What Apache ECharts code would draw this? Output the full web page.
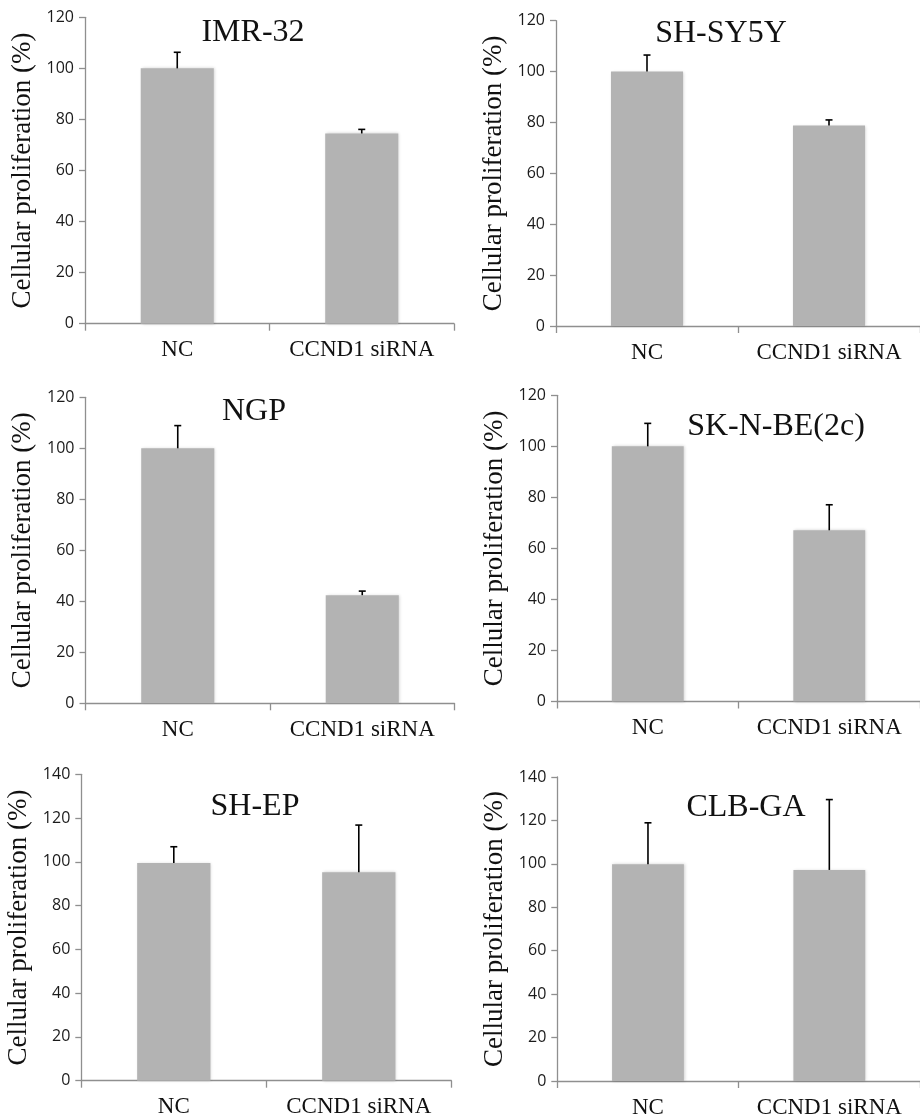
<!DOCTYPE html>
<html>
<head>
<meta charset="utf-8">
<script src="https://cdn.jsdelivr.net/npm/echarts@6/dist/echarts.min.js"></script>
<style>
html,body{margin:0;padding:0;background:#fff;}
#chart{width:920px;height:1119px;}
</style>
</head>
<body>
<div id="chart"></div>
<script>
// ---- data ----
const categories = ['NC', 'CCND1 siRNA'];
const panelTitles = ['IMR-32', 'SH-SY5Y', 'NGP', 'SK-N-BE(2c)', 'SH-EP', 'CLB-GA'];
const yAxisName = 'Cellular proliferation (%)';
const yMaxValues = [120, 120, 120, 120, 140, 140];
const yTickStep = 20;

const imr32Mean = [100, 74.5];
const imr32Err  = [6.3, 1.6];
const shsy5yMean = [100, 78.8];
const shsy5yErr  = [6.5, 2.2];
const ngpMean = [100, 42.4];
const ngpErr  = [8.9, 1.6];
const sknbeMean = [100, 67.1];
const sknbeErr  = [9.0, 10.0];
const shepMean = [99.5, 95.3];
const shepErr  = [7.4, 21.5];
const clbgaMean = [99.8, 97.2];
const clbgaErr  = [19.1, 32.4];

const panelMeans = [imr32Mean, shsy5yMean, ngpMean, sknbeMean, shepMean, clbgaMean];
const panelErrs  = [imr32Err, shsy5yErr, ngpErr, sknbeErr, shepErr, clbgaErr];

// ---- layout (pixels) ----
const grids = [
  {left: 85,  top: 17.3,  width: 369, height: 306.4},
  {left: 556, top: 20.7,  width: 368, height: 305.3},
  {left: 85.5,top: 397.3, width: 369, height: 306},
  {left: 557, top: 395.3, width: 371, height: 306.2},
  {left: 81.3,top: 774.3, width: 370, height: 306.4},
  {left: 557.3,top: 777,  width: 371, height: 305.3}
];
const titlePos = [
  [253, 17], [721, 18], [254, 396], [776, 411], [255, 791], [746, 792]
];

const serif = '"Liberation Serif", "DejaVu Serif", serif';
const sans = '"Open Sans", "Liberation Sans", sans-serif';
const axisGray = '#8f8f8f';

const option = {
  animation: false,
  backgroundColor: '#fff',
  grid: grids.map(g => Object.assign({containLabel: false}, g)),
  xAxis: grids.map((g, i) => ({
    type: 'category',
    gridIndex: i,
    data: categories,
    axisLine: {show: true, lineStyle: {color: axisGray, width: 1.3}},
    axisTick: {show: true, length: 7, alignWithLabel: false, lineStyle: {color: axisGray, width: 1.3}},
    axisLabel: {fontFamily: serif, fontSize: 23, color: '#111', margin: 15, interval: 0, hideOverlap: false},
    splitLine: {show: false}
  })),
  yAxis: grids.map((g, i) => ({
    type: 'value',
    gridIndex: i,
    min: 0,
    max: yMaxValues[i],
    interval: yTickStep,
    name: yAxisName,
    nameLocation: 'middle',
    nameGap: 49,
    nameTextStyle: {fontFamily: serif, fontSize: 27, color: '#111'},
    axisLine: {show: true, lineStyle: {color: axisGray, width: 1.3}},
    axisTick: {show: true, length: 6, lineStyle: {color: axisGray, width: 1.3}},
    axisLabel: {fontFamily: sans, fontSize: 16, color: '#1a1a1a', margin: 11},
    splitLine: {show: false}
  })),
  graphic: panelTitles.map((t, i) => ({
    type: 'text',
    x: titlePos[i][0],
    y: titlePos[i][1],
    style: {text: t, fontFamily: serif, fontSize: 32, fill: '#111', textAlign: 'center', textVerticalAlign: 'top'}
  })),
  series: []
};

panelMeans.forEach((means, i) => {
  option.series.push({
    type: 'bar',
    xAxisIndex: i,
    yAxisIndex: i,
    data: means,
    barWidth: '39.6%',
    itemStyle: {color: '#b3b3b3', shadowColor: 'rgba(0,0,0,0.18)', shadowBlur: 3, shadowOffsetX: 1, shadowOffsetY: 0},
    z: 2
  });
  option.series.push({
    type: 'custom',
    xAxisIndex: i,
    yAxisIndex: i,
    data: means.map((m, k) => [k, m, m + panelErrs[i][k]]),
    renderItem: function (params, api) {
      const x = api.value(0);
      const base = api.coord([x, api.value(1)]);
      const top = api.coord([x, api.value(2)]);
      const hw = 3.5;
      return {
        type: 'group',
        children: [
          {type: 'line', shape: {x1: base[0], y1: base[1], x2: top[0], y2: top[1]}, style: {stroke: '#000', lineWidth: 1.6}},
          {type: 'line', shape: {x1: top[0] - hw, y1: top[1], x2: top[0] + hw, y2: top[1]}, style: {stroke: '#000', lineWidth: 1.6}}
        ]
      };
    },
    z: 3
  });
});

const chart = echarts.init(document.getElementById('chart'), null, {renderer: 'canvas'});
chart.setOption(option);
</script>
</body>
</html>
